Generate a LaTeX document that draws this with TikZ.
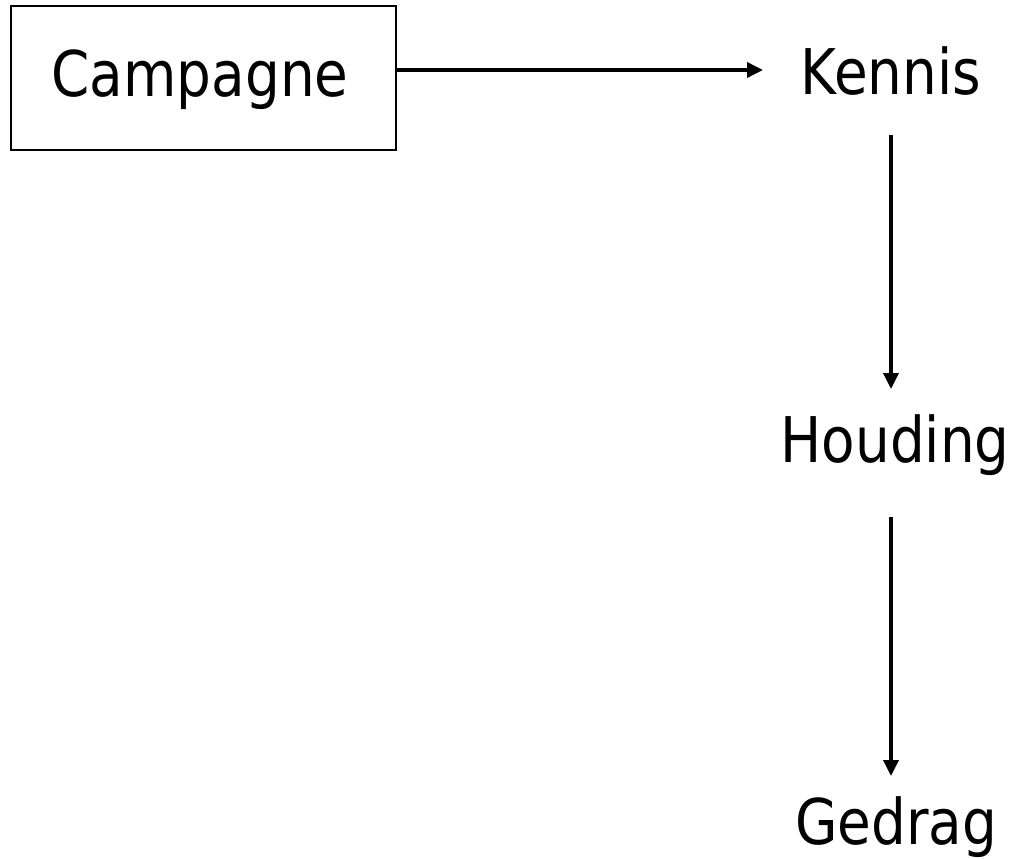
\documentclass[tikz,border=0pt]{standalone}
\usepackage{fontspec}
\setmainfont{DejaVu Sans}[FakeStretch=0.87]
\usetikzlibrary{arrows.meta}
\begin{document}
\begin{tikzpicture}[x=1pt,y=-1pt,
  lbl/.style={font=\fontsize{63}{66}\selectfont,inner sep=0pt,anchor=base},
  arr/.style={line width=3.5pt,-{Triangle[length=16pt,width=15pt]}},
  boxed/.style={draw,line width=2pt,minimum width=385pt,minimum height=144pt,inner sep=0pt}]
\useasboundingbox (0,0) rectangle (1017,859);
\node[boxed] (box) at (203.5,78) {};
\node[lbl] (camp) at (200,96) {Campagne};
\node[lbl] (kennis) at (891,95) {Kennis};
\node[lbl] (houding) at (895,462) {Houding};
\node[lbl] (gedrag) at (896,844) {Gedrag};
\coordinate (h1s) at (396,70);
\coordinate (h1e) at (763,70);
\coordinate (v1s) at (891,135);
\coordinate (v1e) at (891,389);
\coordinate (v2s) at (891,517);
\coordinate (v2e) at (891,776);
\draw[arr] (box.east |- h1s) -- (h1e);
\draw[arr] (v1s) -- (v1e);
\draw[arr] (v2s) -- (v2e);
\end{tikzpicture}
\end{document}
